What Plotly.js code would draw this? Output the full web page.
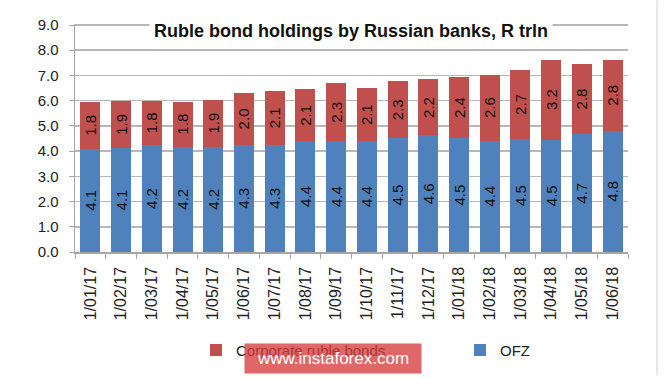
<!DOCTYPE html>
<html>
<head>
<meta charset="utf-8">
<script src="https://cdn.plot.ly/plotly-3.0.1.min.js"></script>
<style>html,body{margin:0;padding:0;background:#fff;}#chart{width:665px;height:378px;}</style>
</head>
<body>
<div id="chart"></div>
<script>
var dates = ["1/01/17","1/02/17","1/03/17","1/04/17","1/05/17","1/06/17","1/07/17","1/08/17","1/09/17","1/10/17","1/11/17","1/12/17","1/01/18","1/02/18","1/03/18","1/04/18","1/05/18","1/06/18"];
var ofz = [4.10,4.12,4.24,4.18,4.18,4.26,4.26,4.39,4.39,4.39,4.51,4.62,4.51,4.42,4.48,4.46,4.66,4.81];
var corporate = [1.84,1.88,1.76,1.78,1.86,2.03,2.11,2.06,2.30,2.11,2.26,2.22,2.43,2.61,2.74,3.17,2.81,2.81];
var yTicks = [0,1,2,3,4,5,6,7,8,9];

var FONT = "Liberation Sans, Arial, sans-serif";
var textStyle = {family: FONT, size: 15, color: "#111"};

var traces = [
  {type: "bar", name: "OFZ", x: dates, y: ofz, marker: {color: "#4f81bd"}, legend: "legend2",
   texttemplate: "%{y:.1f}", textposition: "inside", insidetextanchor: "middle",
   textangle: -90, textfont: textStyle, constraintext: "none", hoverinfo: "skip"},
  {type: "bar", name: "Corporate ruble bonds", x: dates, y: corporate, marker: {color: "#c0504d"}, legend: "legend",
   texttemplate: "%{y:.1f}", textposition: "inside", insidetextanchor: "middle",
   textangle: -90, textfont: textStyle, constraintext: "none", hoverinfo: "skip"}
];

var L = 75, R = 37, T = 24, B = 124;
var W = 665, H = 378;
var YMAX = 9.04;
var pw = W - L - R, ph = H - T - B;
function px2x(p){ return (p - L) / pw; }
function py2y(p){ return (H - B - p) / ph; }

var legendFont = {family: FONT, size: 15, color: "#222"};

var layout = {
  width: W, height: H,
  margin: {l: L, r: R, t: T, b: B, pad: 0},
  paper_bgcolor: "#fff", plot_bgcolor: "#fff",
  barmode: "stack", bargap: 0.35,
  font: {family: FONT, color: "#222"},
  xaxis: {type: "category", tickangle: -90, ticks: "outside", ticklen: 5, tickcolor: "#a6a6a6",
          tickson: "boundaries", showline: true, linecolor: "#a6a6a6", linewidth: 1.5,
          showgrid: false, ticklabelstandoff: 7,
          tickfont: {family: FONT, size: 16, color: "#222"}, fixedrange: true},
  yaxis: {range: [0, YMAX], tickvals: yTicks, tickformat: ".1f", ticks: "outside", ticklen: 5,
          tickcolor: "#a6a6a6", showline: true, linecolor: "#a6a6a6", linewidth: 1.5,
          gridcolor: "#b8b8b8", gridwidth: 1.5, zeroline: false, ticklabelstandoff: 7,
          tickfont: {family: FONT, size: 15, color: "#222"}, fixedrange: true},
  showlegend: true,
  legend: {orientation: "h", x: px2x(196), xanchor: "left",
           y: py2y(353), yanchor: "middle", itemwidth: 30, font: legendFont, bgcolor: "rgba(0,0,0,0)"},
  legend2: {orientation: "h", x: px2x(460), xanchor: "left",
           y: py2y(353), yanchor: "middle", itemwidth: 30, font: legendFont, bgcolor: "rgba(0,0,0,0)"},
  annotations: [
    {text: "<b>Ruble bond holdings by Russian banks, R trln</b>", xref: "paper", yref: "paper",
     x: px2x(351), y: py2y(31), xanchor: "center", yanchor: "middle", showarrow: false,
     font: {family: FONT, size: 18, color: "#111"}, bgcolor: "#fff", borderpad: 0,
     width: 402, height: 24},
    {text: "www.instaforex.com", xref: "paper", yref: "paper",
     x: px2x(333), y: py2y(361.5), xanchor: "center", yanchor: "middle", showarrow: false,
     font: {family: FONT, size: 17, color: "#fff"}, bgcolor: "rgba(215,60,60,0.78)",
     width: 176, height: 29, borderpad: 0}
  ],
  shapes: [
    {type: "line", xref: "paper", yref: "paper", x0: px2x(657), x1: px2x(657), y0: py2y(0), y1: py2y(378),
     line: {color: "#e0e0e0", width: 1.5}}
  ]
};

Plotly.newPlot("chart", traces, layout, {displayModeBar: false, staticPlot: true});
</script>
</body>
</html>
